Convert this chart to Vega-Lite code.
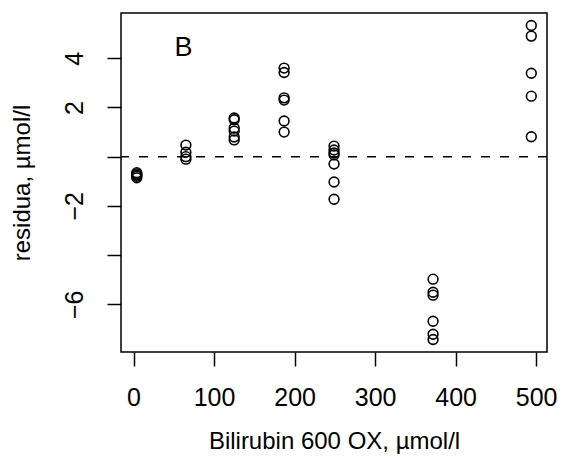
{
  "$schema": "https://vega.github.io/schema/vega-lite/v6.json",
  "width": 426,
  "height": 339,
  "autosize": {"type": "none"},
  "padding": {"left": 121, "top": 13, "right": 15, "bottom": 114},
  "background": "white",
  "config": {
    "font": "Liberation Sans",
    "view": {"stroke": "black", "strokeWidth": 1.5}
  },
  "datasets": {
    "pts": [
      {"x": 4, "y": -0.65}, {"x": 4, "y": -0.7}, {"x": 4, "y": -0.75}, {"x": 4, "y": -0.8}, {"x": 4, "y": -0.86},
      {"x": 65, "y": 0.47}, {"x": 65, "y": 0.18}, {"x": 65, "y": 0.0}, {"x": 65, "y": -0.1},
      {"x": 125, "y": 1.57}, {"x": 125, "y": 1.5}, {"x": 125, "y": 1.16}, {"x": 125, "y": 1.04}, {"x": 125, "y": 0.8}, {"x": 125, "y": 0.68},
      {"x": 187, "y": 3.6}, {"x": 187, "y": 3.42}, {"x": 187, "y": 2.39}, {"x": 187, "y": 2.3}, {"x": 187, "y": 1.45}, {"x": 187, "y": 1.0},
      {"x": 249, "y": 0.43}, {"x": 249, "y": 0.27}, {"x": 249, "y": 0.15}, {"x": 249, "y": 0.07}, {"x": 249, "y": -0.3}, {"x": 249, "y": -1.03}, {"x": 249, "y": -1.73},
      {"x": 372, "y": -4.98}, {"x": 372, "y": -5.51}, {"x": 372, "y": -5.63}, {"x": 372, "y": -6.69}, {"x": 372, "y": -7.22}, {"x": 372, "y": -7.43},
      {"x": 494, "y": 5.33}, {"x": 494, "y": 4.9}, {"x": 494, "y": 3.39}, {"x": 494, "y": 2.46}, {"x": 494, "y": 0.81}
    ],
    "ref": [{"y": 0}],
    "lab": [{"x": 62, "y": 4.42, "t": "B"}]
  },
  "layer": [
    {
      "data": {"name": "ref"},
      "mark": {"type": "rule", "color": "black", "strokeWidth": 1.5, "strokeDash": [9, 10]},
      "encoding": {"y": {"field": "y", "type": "quantitative"}}
    },
    {
      "data": {"name": "pts"},
      "mark": {"type": "point", "shape": "circle", "filled": false, "color": "black", "size": 95, "strokeWidth": 1.6, "opacity": 1},
      "encoding": {
        "x": {
          "field": "x", "type": "quantitative",
          "scale": {"domain": [-15.6, 513.5], "nice": false, "zero": false},
          "axis": {
            "title": "Bilirubin 600 OX, µmol/l",
            "values": [0, 100, 200, 300, 400, 500],
            "domain": false, "grid": false,
            "tickColor": "black", "tickWidth": 1.5, "tickSize": 14,
            "labelFontSize": 25, "labelColor": "black", "labelPadding": 19,
            "labelFlush": false, "labelOverlap": false,
            "titleFontSize": 24, "titleFontWeight": "normal", "titleColor": "black", "titlePadding": 19
          }
        },
        "y": {
          "field": "y", "type": "quantitative",
          "scale": {"domain": [-7.94, 5.84], "nice": false, "zero": false},
          "axis": {
            "title": "residua, µmol/l",
            "values": [-6, -4, -2, 0, 2, 4],
            "labelExpr": "datum.value == -4 || datum.value == 0 ? '' : datum.label",
            "domain": false, "grid": false,
            "tickColor": "black", "tickWidth": 1.5, "tickSize": 14,
            "labelFontSize": 25, "labelColor": "black", "labelPadding": 20,
            "labelAngle": -90, "labelAlign": "center", "labelBaseline": "bottom",
            "labelFlush": false, "labelOverlap": false,
            "titleFontSize": 24, "titleFontWeight": "normal", "titleColor": "black", "titlePadding": 28
          }
        }
      }
    },
    {
      "data": {"name": "lab"},
      "mark": {"type": "text", "fontSize": 27, "color": "black", "align": "center", "baseline": "middle"},
      "encoding": {
        "x": {"field": "x", "type": "quantitative"},
        "y": {"field": "y", "type": "quantitative"},
        "text": {"field": "t"}
      }
    }
  ]
}
